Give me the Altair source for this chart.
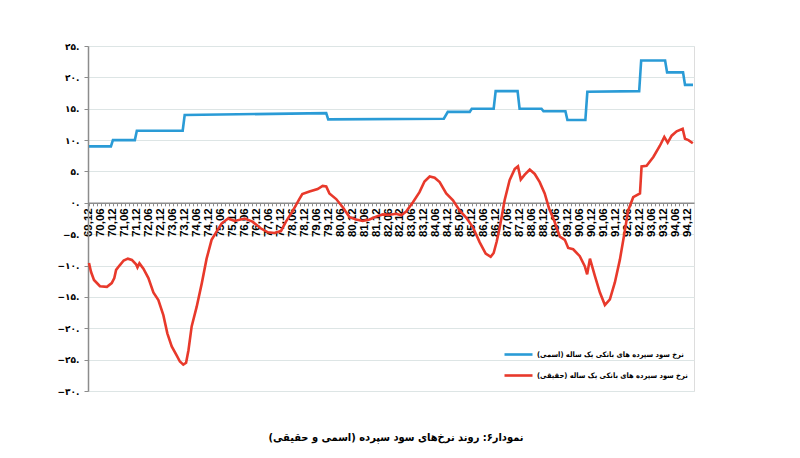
import json
import altair as alt
import pandas as pd

# ---------------- data ----------------
X_LABELS = [
    "69,12", "70,06", "70,12", "71,06", "71,12", "72,06", "72,12", "73,06", "73,12",
    "74,06", "74,12", "75,06", "75,12", "76,06", "76,12", "77,06", "77,12", "78,06",
    "78,12", "79,06", "79,12", "80,06", "80,12", "81,06", "81,12", "82,06", "82,12",
    "83,06", "83,12", "84,06", "84,12", "85,06", "85,12", "86,06", "86,12", "87,06",
    "87,12", "88,06", "88,12", "89,06", "89,12", "90,06", "90,12", "91,06", "91,12",
    "92,06", "92,12", "93,06", "93,12", "94,06", "94,12",
]
Y_VALUES = [25, 20, 15, 10, 5, 0, -5, -10, -15, -20, -25, -30]
Y_LABELS = ["۲۵.", "۲۰.", "۱۵.", "۱۰.", "۵.", "۰.", "−۵.", "−۱۰.", "−۱۵.", "−۲۰.", "−۲۵.", "−۳۰."]

SERIES = [
    "نرخ سود سپرده های بانکی یک ساله (اسمی)",
    "نرخ سود سپرده های بانکی یک ساله (حقیقی)",
]
COLORS = ["#2a9bd6", "#e8392b"]
TITLE = "نمودار۶: روند نرخ‌های سود سپرده (اسمی و حقیقی)"

# month index counted from 69,12
NOMINAL_MONTH = [0, 11, 12, 23, 24, 47, 48, 119, 120, 178, 180, 191, 192, 203, 204, 215,
                 216, 227, 228, 239, 240, 249, 250, 276, 277, 289, 290, 298, 299, 303]
NOMINAL_RATE = [9.0, 9.0, 10.0, 10.0, 11.5, 11.5, 14.0, 14.3, 13.3, 13.4, 14.5, 14.5, 15.0,
                15.0, 17.8, 17.8, 15.0, 15.0, 14.6, 14.6, 13.2, 13.2, 17.7, 17.8, 22.7,
                22.7, 20.8, 20.8, 18.8, 18.8]

REAL_MONTH = [0, 1, 2.5, 5.5, 9, 11.4, 12.7, 13.6, 15.3, 17.4, 19.5, 21.5, 23.6, 24.3, 25.3,
              27.3, 29.8, 32.3, 34.8, 37.3, 39.3, 41.5, 43.9, 45.6, 47.3, 48.7, 49.9, 51.5,
              54, 56.6, 59, 61.5, 64, 66.5, 69.8, 73.1, 78.1, 82, 86.3, 89.8, 93, 96.3,
              98.8, 102, 105.5, 107, 110.6, 114.7, 117.2, 119, 120.6, 124, 127.3, 130.7,
              134, 137.3, 140.7, 144, 147.4, 150.8, 154.1, 156.6, 159.1, 162.5, 165.8,
              168.3, 170.9, 173.4, 175.9, 179.2, 182.6, 185.9, 189.3, 192.6, 196, 199,
              201.5, 203, 204.5, 206, 208.5, 211, 213.6, 215.2, 216.6, 218.6, 221.1, 223.6,
              226.1, 228.6, 230.8, 233.2, 236.2, 238.7, 240.4, 242.9, 246.2, 248.7, 249.9,
              251.3, 253.8, 256.3, 258.8, 261.3, 263.8, 266.3, 268.3, 270.5, 273, 276.4,
              277.2, 279.7, 283.1, 286.4, 288.6, 290.3, 292.3, 294.8, 297.8, 299, 300.7,
              302.9]
REAL_RATE = [-9.6, -11.0, -12.3, -13.3, -13.4, -12.8, -12.0, -10.7, -10.0, -9.2, -8.9, -9.1,
             -9.8, -10.3, -9.65, -10.5, -12.0, -14.3, -15.5, -17.9, -20.8, -22.9, -24.3,
             -25.3, -25.8, -25.5, -23.5, -19.7, -16.6, -12.8, -8.9, -5.9, -4.6, -3.3, -2.5,
             -2.9, -2.5, -3.0, -4.1, -4.7, -4.8, -4.5, -3.0, -1.4, 0.6, 1.4, 1.8, 2.2, 2.7,
             2.6, 1.5, 0.6, -0.7, -2.3, -2.65, -2.9, -2.65, -2.2, -1.85, -1.9, -1.75, -2.0,
             -1.4, 0.1, 1.7, 3.4, 4.2, 4.0, 3.3, 1.5, 0.4, -1.2, -2.4, -3.9, -6.3, -8.1,
             -8.6, -8.0, -6.2, -4.0, 0.4, 3.6, 5.4, 5.8, 3.7, 4.5, 5.3, 4.6, 3.3, 1.5, -0.9,
             -2.7, -5.4, -5.9, -7.2, -7.4, -8.5, -10.1, -11.4, -8.9, -11.7, -14.3, -16.3,
             -15.4, -12.7, -9.1, -5.4, -1.2, 0.9, 1.5, 5.8, 5.9, 7.3, 9.1, 10.5, 9.6, 10.7,
             11.4, 11.8, 10.2, 10.0, 9.5]

# ---------------- table ----------------
df = pd.concat([
    pd.DataFrame({"month": NOMINAL_MONTH, "rate": NOMINAL_RATE, "series": SERIES[0]}),
    pd.DataFrame({"month": REAL_MONTH, "rate": REAL_RATE, "series": SERIES[1]}),
], ignore_index=True)

W, H = 606, 345
Y_MIN, Y_MAX = Y_VALUES[-1], Y_VALUES[0]
zero_offset = -(H * (0 - Y_MIN) / (Y_MAX - Y_MIN))

x_tick_values = list(range(0, 6 * (len(X_LABELS) - 1) + 1, 2))
x_label_expr = (
    "datum.value % 6 == 0 ? "
    + json.dumps(X_LABELS, ensure_ascii=False)
    + "[round(datum.value / 6)] : ''"
)
y_label_expr = (
    json.dumps(Y_LABELS, ensure_ascii=False)
    + f"[round(({Y_MAX} - datum.value) / 5)]"
)

chart = alt.Chart(df).mark_line(strokeWidth=2.6, interpolate="linear").encode(
    x=alt.X(
        "month:Q",
        scale=alt.Scale(domain=[-0.5, 303.5], nice=False, zero=False),
        axis=alt.Axis(
            values=x_tick_values,
            labelExpr=x_label_expr,
            labelAngle=-90,
            labelFont="Liberation Sans",
            labelFontSize=11.5,
            labelFontWeight="bold",
            labelColor="#000000",
            labelPadding=2,
            labelOverlap=False,
            labelFlush=False,
            tickSize=3,
            tickColor="#8c8c8c",
            domainColor="#8c8c8c",
            domainWidth=1.5,
            offset=zero_offset,
            grid=False,
            title=None,
        ),
    ),
    y=alt.Y(
        "rate:Q",
        scale=alt.Scale(domain=[Y_MIN, Y_MAX], nice=False, zero=False),
        axis=alt.Axis(
            values=Y_VALUES,
            labelExpr=y_label_expr,
            labelFont="DejaVu Sans",
            labelFontSize=9,
            labelFontWeight="bold",
            labelColor="#000000",
            labelPadding=5,
            tickSize=4,
            tickColor="#8c8c8c",
            domainColor="#8c8c8c",
            domainWidth=1.5,
            grid=True,
            gridColor="#dde5e5",
            gridWidth=1.2,
            title=None,
        ),
    ),
    color=alt.Color(
        "series:N",
        scale=alt.Scale(domain=SERIES, range=COLORS),
        legend=alt.Legend(
            orient="none",
            legendX=415,
            legendY=293,
            title=None,
            symbolType="stroke",
            symbolStrokeWidth=2.6,
            symbolSize=784,
            labelFont="DejaVu Sans Condensed",
            labelFontSize=7.5,
            labelFontWeight="bold",
            labelColor="#000000",
            labelLimit=400,
            labelOffset=3,
            rowPadding=-6,
        ),
    ),
).properties(
    width=W,
    height=H,
    title=alt.TitleParams(
        TITLE,
        orient="bottom",
        frame="group",
        anchor="middle",
        offset=36,
        dx=5,
        font="DejaVu Sans Condensed",
        fontSize=11,
        fontWeight="bold",
        color="#000000",
    ),
    autosize=alt.AutoSizeParams(type="none"),
    padding={"left": 80, "top": 38, "right": 98, "bottom": 59},
).configure_view(stroke=None).configure(background="white")

chart.save("out.html", embed_options={"renderer": "svg", "actions": False})
